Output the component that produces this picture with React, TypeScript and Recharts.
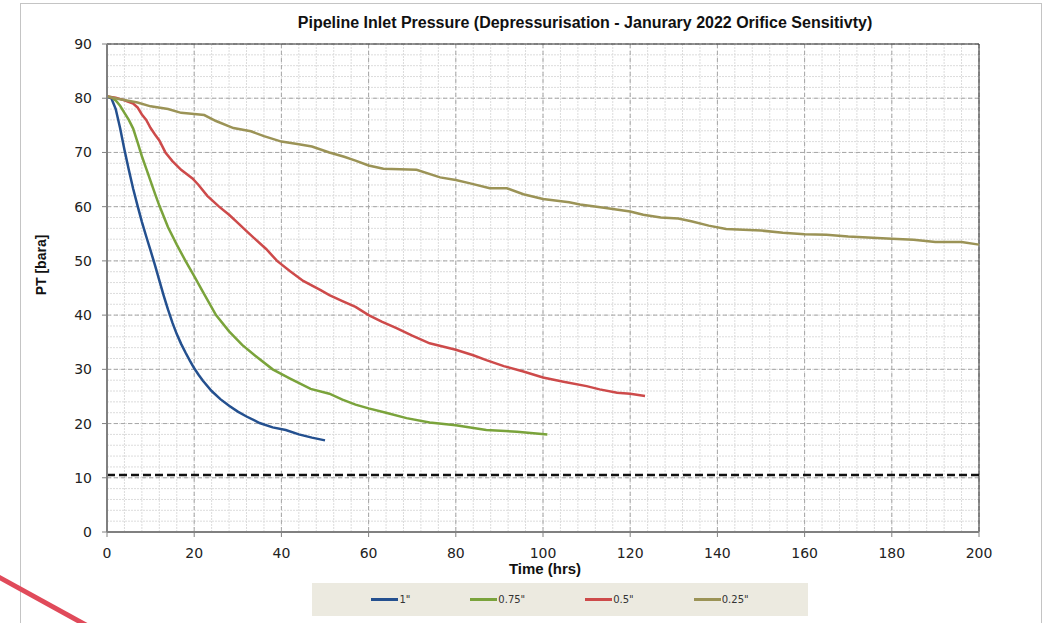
import React from 'react';
import {
  LineChart,
  Line,
  XAxis,
  YAxis,
  CartesianGrid,
  ReferenceLine,
  ReferenceArea,
  Legend,
} from 'recharts';

const TITLE = 'Pipeline Inlet Pressure (Depressurisation - Janurary 2022 Orifice Sensitivty)';
const X_LABEL = 'Time (hrs)';
const Y_LABEL = 'PT [bara]';
const X_TICKS = [0, 20, 40, 60, 80, 100, 120, 140, 160, 180, 200];
const Y_TICKS = [0, 10, 20, 30, 40, 50, 60, 70, 80, 90];
const MIN_PRESSURE = 10.5;

// [time (hrs), pressure (bara)]
const orifice100: [number, number][] = [
  [0, 80.3], [1, 80.0], [2, 78.0], [3, 74.5], [4, 70.5], [5, 66.8], [6, 63.3], [7, 60.2],
  [8, 57.2], [9, 54.5], [10, 51.9], [11, 49.2], [12, 46.4], [13, 43.6], [14, 41.0], [15, 38.6],
  [16, 36.5], [17, 34.7], [18, 33.1], [19, 31.6], [20, 30.2], [21, 29.0], [22, 27.9], [24, 26.0],
  [26, 24.5], [28, 23.3], [30, 22.2], [32, 21.3], [35, 20.1], [38, 19.3], [41, 18.8], [44, 18.0],
  [47, 17.4], [50, 16.9],
];

const orifice075: [number, number][] = [
  [0, 80.3], [1, 80.2], [2, 79.6], [3, 78.6], [4, 77.3], [5, 76.0], [6, 74.4], [7, 71.9],
  [8, 69.3], [9, 67.0], [10, 64.7], [11, 62.4], [12, 60.2], [14, 56.2], [16, 53.0], [18, 50.0],
  [20, 47.2], [22, 44.3], [25, 40.0], [28, 37.0], [31, 34.5], [34, 32.5], [38, 30.0], [42, 28.3],
  [46.7, 26.4], [51, 25.5], [54, 24.4], [57, 23.5], [60, 22.8], [64, 22.0], [68.7, 21.0],
  [74, 20.2], [80, 19.7], [87, 18.8], [94, 18.5], [101, 18.0],
];

const orifice050: [number, number][] = [
  [0, 80.3], [2, 80.1], [4, 79.6], [6, 79.0], [7, 78.3], [8, 77.0], [9, 76.0], [10, 74.5],
  [11, 73.3], [12, 72.2], [13.4, 70.0], [15, 68.4], [17, 66.8], [19.6, 65.2], [21, 64.0],
  [23, 62.0], [25.7, 60.0], [28, 58.5], [30, 57.0], [32, 55.5], [34, 54.0], [36.5, 52.2],
  [39, 50.0], [42, 48.1], [45, 46.3], [49, 44.6], [51, 43.7], [54, 42.6], [57, 41.5], [60, 40.0],
  [63, 38.8], [66.4, 37.6], [70, 36.2], [74, 34.8], [80, 33.6], [84, 32.6], [87, 31.7],
  [91, 30.6], [95.5, 29.6], [100, 28.5], [104.7, 27.7], [110, 26.9], [113, 26.3], [117, 25.7],
  [120, 25.5], [123.4, 25.1],
];

const orifice025: [number, number][] = [
  [0, 80.3], [3, 79.8], [7, 79.2], [10, 78.5], [14, 78.0], [17, 77.3], [20, 77.1], [22.3, 76.9],
  [25, 75.8], [29, 74.5], [33, 73.9], [36, 73.0], [40, 72.0], [44, 71.5], [47, 71.1], [51, 70.0],
  [54.4, 69.2], [57, 68.5], [60, 67.6], [63.4, 67.0], [71, 66.8], [76.4, 65.4], [80, 64.9],
  [83.3, 64.3], [87.8, 63.4], [91.7, 63.4], [95.5, 62.3], [100, 61.4], [106, 60.8], [108.5, 60.4],
  [114, 59.8], [120, 59.1], [123, 58.5], [127, 58.0], [131, 57.8], [134, 57.3], [138, 56.5],
  [142, 55.9], [150, 55.6], [155, 55.2], [160, 54.9], [165, 54.8], [170, 54.5], [180, 54.1],
  [185, 53.9], [190, 53.5], [196, 53.5], [200, 53.0],
];

const SERIES_NAMES = ['1"', '0.75"', '0.5"', '0.25"'];
const SERIES_COLORS = ['#24508F', '#7AA33B', '#CD4A4A', '#9B9356'];
const SERIES_POINTS = [orifice100, orifice075, orifice050, orifice025];

const minorX: number[] = [];
for (let v = 0; v <= 200; v += 4) minorX.push(v);
const minorY: number[] = [];
for (let v = 0; v <= 90; v += 2) minorY.push(v);

const FONT = '"DejaVu Sans", Verdana, sans-serif';
const BOLD_FONT = '"Liberation Sans", Arial, sans-serif';

const renderLegend = (props: any) => {
  const payload = [...(props.payload || [])].sort(
    (a: any, b: any) => SERIES_NAMES.indexOf(a.value) - SERIES_NAMES.indexOf(b.value)
  );
  return (
    <div
      style={{
        width: '100%',
        height: '100%',
        background: '#ECEAE0',
        display: 'flex',
        alignItems: 'center',
        justifyContent: 'center',
        gap: 60,
        fontFamily: FONT,
        fontSize: 10,
        color: '#333',
      }}
    >
      {payload.map((e: any) => (
        <div key={e.value} style={{ display: 'flex', alignItems: 'center' }}>
          <span style={{ display: 'inline-block', width: 27, height: 3, background: e.color }} />
          <span style={{ marginLeft: 1 }}>{e.value}</span>
        </div>
      ))}
    </div>
  );
};

export default function App() {
  return (
    <div
      style={{
        position: 'absolute',
        left: 0,
        top: 0,
        width: 1046,
        height: 623,
        overflow: 'hidden',
        background: '#fff',
        fontFamily: FONT,
      }}
    >
      <div
        style={{
          position: 'absolute',
          left: 20,
          top: 3,
          width: 1022,
          height: 700,
          border: '1px solid #c4c4c4',
          boxSizing: 'border-box',
        }}
      />
      <LineChart
        width={1046}
        height={623}
        margin={{ top: 44, right: 67, bottom: 51, left: 57 }}
      >
        <CartesianGrid
          stroke="#dcdcdc"
          strokeDasharray="2 1"
          horizontalValues={minorY}
          verticalValues={minorX}
        />
        <CartesianGrid
          stroke="#a6a6a6"
          strokeDasharray="4 3"
          horizontalValues={Y_TICKS}
          verticalValues={X_TICKS}
        />
        <XAxis
          type="number"
          dataKey="t"
          domain={[0, 200]}
          ticks={X_TICKS}
          interval={0}
          allowDuplicatedCategory={false}
          height={40}
          axisLine={{ stroke: '#808080', strokeWidth: 2 }}
          tickLine={{ stroke: '#808080' }}
          tickSize={5}
          tickMargin={11}
          tick={{ fill: '#222', fontSize: 14, fontFamily: FONT }}
          label={(p: any) => {
            const vb = p.viewBox || {};
            return (
              <text
                x={vb.x + vb.width / 2 + 2}
                y={vb.y + 42}
                textAnchor="middle"
                fontFamily={BOLD_FONT}
                fontWeight="bold"
                fontSize={15}
                fill="#111"
              >
                {X_LABEL}
              </text>
            );
          }}
        />
        <YAxis
          type="number"
          domain={[0, 90]}
          ticks={Y_TICKS}
          interval={0}
          width={50}
          axisLine={{ stroke: '#808080', strokeWidth: 2 }}
          tickLine={{ stroke: '#808080' }}
          tickSize={5}
          tickMargin={10}
          tick={{ fill: '#222', fontSize: 14, fontFamily: FONT }}
          label={(p: any) => {
            const vb = p.viewBox || {};
            const cx = vb.x - 16;
            const cy = vb.y + vb.height / 2 - 23;
            return (
              <text
                x={cx}
                y={cy}
                transform={`rotate(-90 ${cx} ${cy})`}
                textAnchor="middle"
                dominantBaseline="central"
                fontFamily={BOLD_FONT}
                fontWeight="bold"
                fontSize={14}
                fill="#111"
              >
                {Y_LABEL}
              </text>
            );
          }}
        />
        <ReferenceArea x1={0} x2={200} y1={0} y2={90} fill="none" stroke="#333" strokeWidth={1} fillOpacity={0} />
        <ReferenceLine y={MIN_PRESSURE} stroke="#111" strokeWidth={2.5} strokeDasharray="8 4" />
        {SERIES_NAMES.map((name, i) => (
          <Line
            key={name}
            name={name}
            data={SERIES_POINTS[i].map(([t, p]) => ({ t, p }))}
            dataKey="p"
            type="linear"
            stroke={SERIES_COLORS[i]}
            strokeWidth={2.5}
            dot={false}
            activeDot={false}
            isAnimationActive={false}
          />
        ))}
        <Legend
          layout="horizontal"
          verticalAlign="middle"
          align="center"
          content={renderLegend}
          wrapperStyle={{ left: 312, top: 583, width: 496, height: 33 }}
        />
        <text
          x={585}
          y={28}
          textAnchor="middle"
          fontFamily={BOLD_FONT}
          fontWeight="bold"
          fontSize={16}
          fill="#111"
        >
          {TITLE}
        </text>
      </LineChart>
      <svg
        width={120}
        height={80}
        style={{ position: 'absolute', left: 0, top: 560, pointerEvents: 'none' }}
      >
        <line x1={-5} y1={15} x2={95} y2={70} stroke="#E04A5A" strokeWidth={5} />
      </svg>
    </div>
  );
}
